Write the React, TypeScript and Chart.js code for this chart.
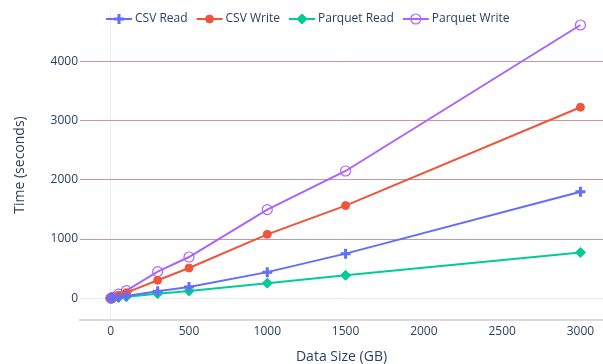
import React, { useEffect, useRef } from 'react';
import { Chart, registerables } from 'chart.js';

Chart.register(...registerables);

// ---- data ----
const sizes = [1, 10, 50, 100, 300, 500, 1000, 1500, 3000];
const csvRead = [0.4, 4, 19, 38, 118, 191, 442, 754, 1800];
const csvWrite = [1, 10, 50, 95, 304, 511, 1080, 1565, 3225];
const parquetRead = [0.3, 3, 13, 26, 79, 125, 255, 388, 775];
const parquetWrite = [1.5, 15, 70, 130, 450, 697, 1497, 2149, 4613];

const seriesNames = ['CSV Read', 'CSV Write', 'Parquet Read', 'Parquet Write'];
const xTicks = [0, 500, 1000, 1500, 2000, 2500, 3000];
const yTicks = [0, 1000, 2000, 3000, 4000];

const colors = ['#636efa', '#ef553b', '#00cc96', '#ab63fa'];
const markerStyles = [
  { pointStyle: 'cross', radius: 5, borderWidth: 3, bg: '#636efa' },
  { pointStyle: 'circle', radius: 4, borderWidth: 1, bg: '#ef553b' },
  { pointStyle: 'rectRot', radius: 5, borderWidth: 1, bg: '#00cc96' },
  { pointStyle: 'circle', radius: 5, borderWidth: 1.2, bg: 'rgba(0,0,0,0)' },
];

const FONT = '"Open Sans", "DejaVu Sans", sans-serif';
const TEXT = '#2a3f5f';

function drawMarker(c: CanvasRenderingContext2D, i: number, x: number, y: number) {
  const m = markerStyles[i];
  c.save();
  c.strokeStyle = colors[i];
  c.fillStyle = m.bg;
  c.lineWidth = m.borderWidth;
  c.beginPath();
  if (m.pointStyle === 'cross') {
    c.moveTo(x - m.radius, y);
    c.lineTo(x + m.radius, y);
    c.moveTo(x, y - m.radius);
    c.lineTo(x, y + m.radius);
    c.stroke();
  } else if (m.pointStyle === 'rectRot') {
    c.moveTo(x, y - m.radius);
    c.lineTo(x + m.radius, y);
    c.lineTo(x, y + m.radius);
    c.lineTo(x - m.radius, y);
    c.closePath();
    c.fill();
    c.stroke();
  } else {
    c.arc(x, y, m.radius, 0, Math.PI * 2);
    c.fill();
    c.stroke();
  }
  c.restore();
}

const legendPlugin = {
  id: 'plotlyLegend',
  afterDraw(chart: any) {
    const c: CanvasRenderingContext2D = chart.ctx;
    c.save();
    c.font = '12px ' + FONT;
    c.textBaseline = 'middle';
    c.textAlign = 'left';
    let x = 106;
    const y = 19;
    chart.data.datasets.forEach((ds: any, i: number) => {
      c.strokeStyle = colors[i];
      c.lineWidth = 2;
      c.beginPath();
      c.moveTo(x, y);
      c.lineTo(x + 26, y);
      c.stroke();
      drawMarker(c, i, x + 13, y);
      c.fillStyle = TEXT;
      c.fillText(ds.label, x + 29, y);
      x += 29 + c.measureText(ds.label).width + 9;
    });
    c.restore();
  },
};

export default function App() {
  const ref = useRef<HTMLCanvasElement>(null);

  useEffect(() => {
    document.body.style.margin = '0';
    document.body.style.overflow = 'hidden';
    document.documentElement.style.overflow = 'hidden';
    const canvas = ref.current!;
    const values = [csvRead, csvWrite, parquetRead, parquetWrite];
    const datasets = values.map((vals, i) => ({
      label: seriesNames[i],
      data: sizes.map((x, j) => ({ x, y: vals[j] })),
      borderColor: colors[i],
      backgroundColor: colors[i],
      borderWidth: 2,
      pointStyle: markerStyles[i].pointStyle,
      pointRadius: markerStyles[i].radius,
      pointBorderWidth: markerStyles[i].borderWidth,
      pointBackgroundColor: markerStyles[i].bg,
      pointBorderColor: colors[i],
      tension: 0,
    }));

    const chart = new Chart(canvas, {
      type: 'line',
      data: { datasets },
      plugins: [legendPlugin],
      options: {
        animation: false,
        responsive: false,
        devicePixelRatio: 1,
        layout: { autoPadding: false, padding: { top: 10, right: 0, left: 0, bottom: 0 } },
        plugins: { legend: { display: false }, tooltip: { enabled: false } },
        scales: {
          x: {
            type: 'linear',
            min: -196,
            max: 3144,
            afterBuildTicks: (s: any) => {
              s.ticks = xTicks.map((v) => ({ value: v }));
            },
            afterFit: (s: any) => {
              s.height = 44;
              s.paddingLeft = 0;
              s.paddingRight = 0;
            },
            grid: {
              drawTicks: false,
              lineWidth: 1,
              color: (ctx: any) => (ctx.tick && ctx.tick.value === 0 ? '#ebebeb' : 'rgba(0,0,0,0)'),
            },
            border: { display: true, color: '#dadada', width: 2 },
            ticks: {
              color: TEXT,
              font: { family: FONT, size: 12 },
              padding: 4,
              maxRotation: 0,
              autoSkip: false,
              callback: (v: any) => String(v),
            },
            title: {
              display: true,
              text: 'Data Size (GB)',
              color: TEXT,
              font: { family: FONT, size: 14, lineHeight: 1 },
              padding: { top: 0, bottom: 0 },
            },
          },
          y: {
            type: 'linear',
            min: -366,
            max: 4866,
            afterBuildTicks: (s: any) => {
              s.ticks = yTicks.map((v) => ({ value: v }));
            },
            afterFit: (s: any) => {
              s.width = 80;
            },
            grid: {
              drawTicks: false,
              lineWidth: 1,
              color: (ctx: any) => (ctx.tick && ctx.tick.value === 0 ? '#ebebeb' : '#cc96a0'),
            },
            border: { display: false },
            ticks: {
              color: TEXT,
              font: { family: FONT, size: 12 },
              padding: 2,
              autoSkip: false,
              callback: (v: any) => String(v),
            },
            title: {
              display: true,
              text: 'Time (seconds)',
              color: TEXT,
              font: { family: FONT, size: 14 },
              padding: { top: 12, bottom: 0 },
            },
          },
        },
      } as any,
    });
    return () => chart.destroy();
  }, []);

  return (
    <div style={{ position: 'absolute', left: 0, top: 0, width: 603, height: 364, overflow: 'hidden', background: '#fff' }}>
      <canvas ref={ref} width={603} height={364} style={{ display: 'block', width: 603, height: 364 }} />
    </div>
  );
}
